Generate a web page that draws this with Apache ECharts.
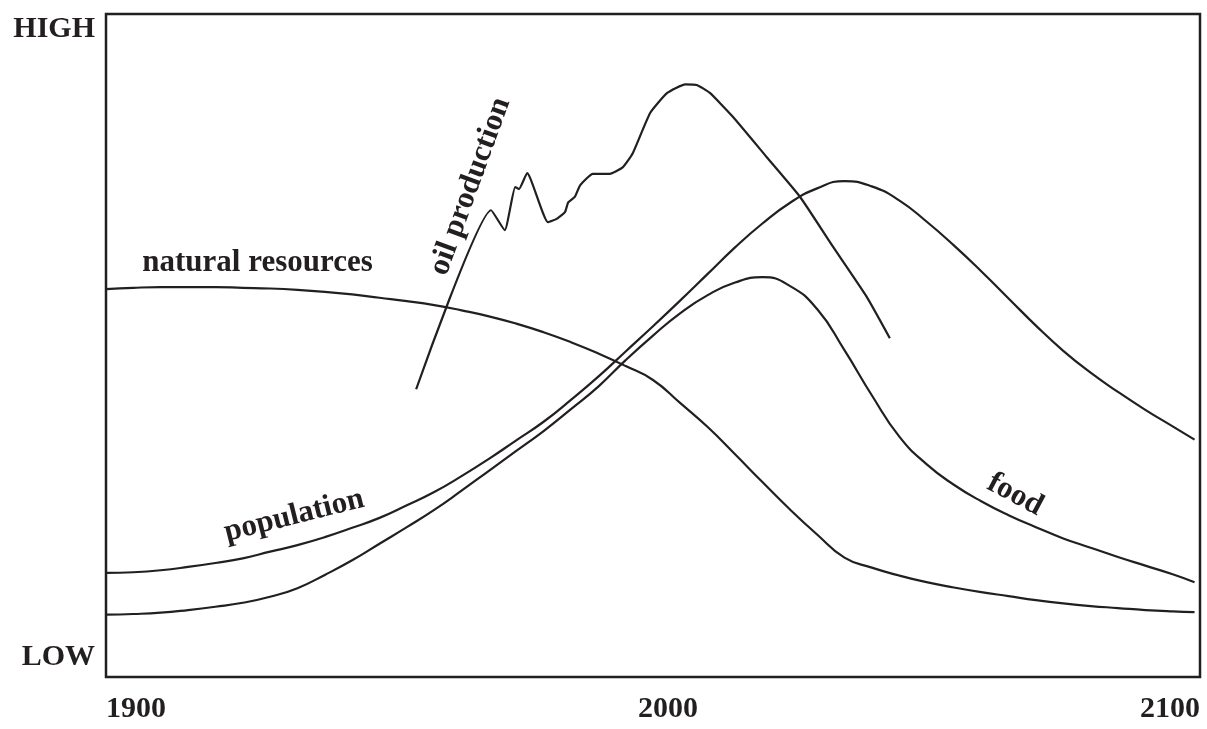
<!DOCTYPE html>
<html>
<head>
<meta charset="utf-8">
<title>Limits to growth</title>
<script src="https://cdn.jsdelivr.net/npm/echarts@6/dist/echarts.min.js"></script>
<style>
  html, body { margin: 0; padding: 0; background: #fff; }
  #chart { width: 1207px; height: 729px; }
</style>
</head>
<body>
<div id="chart"></div>
<script>
// years on x, a relative level 0 (LOW) .. 100 (HIGH) on y
const years = [1900, 1905, 1910, 1915, 1920, 1925, 1930, 1935, 1940, 1945,
  1950, 1955, 1960, 1965, 1970, 1975, 1980, 1985, 1990, 1995,
  2000, 2005, 2010, 2015, 2020, 2025, 2030, 2035, 2040, 2045,
  2050, 2055, 2060, 2065, 2070, 2075, 2080, 2085, 2090, 2095, 2099]

const naturalResources = [58.5, 58.7, 58.8, 58.8, 58.8, 58.7, 58.6, 58.4, 58.1, 57.7,
  57.2, 56.7, 56.1, 55.3, 54.4, 53.3, 52.0, 50.5, 48.8, 46.9,
  44.8, 41.3, 37.7, 33.6, 29.4, 25.3, 21.5, 18.0, 16.5, 15.3,
  14.3, 13.5, 12.8, 12.2, 11.6, 11.1, 10.7, 10.4, 10.1, 9.9, 9.8]
const population = [15.7, 15.8, 16.1, 16.6, 17.2, 17.9, 18.9, 19.9, 21.1, 22.5,
  24.0, 25.9, 27.9, 30.3, 32.9, 35.7, 38.5, 41.8, 45.3, 49.1,
  52.9, 56.8, 60.8, 64.8, 68.4, 71.5, 73.7, 74.8, 74.0, 71.9,
  68.7, 65.1, 61.2, 57.1, 53.0, 49.2, 45.9, 43.0, 40.3, 37.8, 35.8]
const food = [9.4, 9.5, 9.7, 10.1, 10.6, 11.2, 12.1, 13.4, 15.4, 17.6,
  20.1, 22.6, 25.2, 28.1, 31.1, 34.1, 37.1, 40.4, 43.8, 47.8,
  51.5, 54.9, 57.6, 59.5, 60.3, 59.0, 55.5, 49.3, 42.5, 36.3,
  32.1, 29.0, 26.5, 24.4, 22.6, 20.9, 19.5, 18.1, 16.8, 15.5, 14.3]

const oilYears = [1956.7, 1970.4, 1972.9, 1974.8, 1975.5, 1977.0, 1980.8, 1982.4, 1983.9,
  1984.5, 1985.7, 1986.7, 1989.0, 1992.1, 1994.5, 1996.3, 1999.5, 2002.6, 2005.9,
  2008.0, 2010.4, 2014.6, 2020.8, 2026.9, 2032.9, 2039.1, 2043.3]
const oilProduction = [43.4, 70.4, 67.4, 73.9, 73.6, 76.0, 68.6, 69.1, 70.1,
  71.6, 72.4, 74.2, 75.9, 75.9, 76.9, 79.0, 85.1, 88.1, 89.4,
  89.3, 88.1, 84.5, 78.4, 72.4, 64.9, 57.3, 51.1]

const xTicks = { 1900: '1900', 2000: '2000', 2100: '2100' }
const yTicks = { 0: 'LOW', 100: 'HIGH' }

const ink = '#231f20'
const font = "'Liberation Serif', 'DejaVu Serif', serif"

const chart = echarts.init(document.getElementById('chart'))

function curve (name, xs, ys, smooth, tag) {
  return {
    name: name,
    type: 'line',
    smooth: smooth,
    showSymbol: false,
    silent: true,
    lineStyle: { color: ink, width: 2.2 },
    data: xs.map((x, i) => [x, ys[i]]),
    markPoint: {
      symbol: 'circle',
      symbolSize: 0,
      silent: true,
      label: {
        show: true,
        position: 'inside',
        formatter: name,
        color: ink,
        fontFamily: font,
        fontWeight: 'bold',
        fontSize: 31,
        rotate: tag.rotate
      },
      data: [{ coord: tag.at }]
    }
  }
}

chart.setOption({
  animation: false,
  backgroundColor: '#fff',
  grid: {
    left: 106,
    right: 7,
    top: 14,
    bottom: 52,
    show: true,
    borderColor: ink,
    borderWidth: 2.5
  },
  xAxis: {
    type: 'value',
    min: 1900,
    max: 2100,
    interval: 100,
    axisLine: { show: false },
    axisTick: { show: false },
    splitLine: { show: false },
    axisLabel: {
      margin: 17,
      color: ink,
      fontFamily: font,
      fontWeight: 'bold',
      fontSize: 30,
      alignMinLabel: 'left',
      alignMaxLabel: 'right',
      formatter: v => v === 2000 ? '{mid|' + xTicks[v] + '}' : xTicks[v],
      rich: {
        mid: {
          color: ink,
          fontFamily: font,
          fontWeight: 'bold',
          fontSize: 30,
          padding: [0, 0, 0, 30]
        }
      }
    }
  },
  yAxis: {
    type: 'value',
    min: 0,
    max: 100,
    interval: 100,
    axisLine: { show: false },
    axisTick: { show: false },
    splitLine: { show: false },
    axisLabel: {
      margin: 11,
      color: ink,
      fontFamily: font,
      fontWeight: 'bold',
      fontSize: 30,
      verticalAlignMinLabel: 'bottom',
      verticalAlignMaxLabel: 'top',
      formatter: v => v === 0 ? '{low|' + yTicks[v] + '}' : yTicks[v],
      rich: {
        low: {
          color: ink,
          fontFamily: font,
          fontWeight: 'bold',
          fontSize: 30,
          padding: [0, 0, 5, 0]
        }
      }
    }
  },
  series: [
    curve('natural resources', years, naturalResources, 0.5, { at: [1927.7, 62.4], rotate: 0 }),
    curve('population', years, population, 0.5, { at: [1934.4, 24.3], rotate: 14 }),
    curve('food', years, food, 0.5, { at: [2066.2, 27.5], rotate: -28 }),
    curve('oil production', oilYears, oilProduction, 0.15, { at: [1966.6, 74.0], rotate: 70 })
  ]
})
</script>
</body>
</html>
